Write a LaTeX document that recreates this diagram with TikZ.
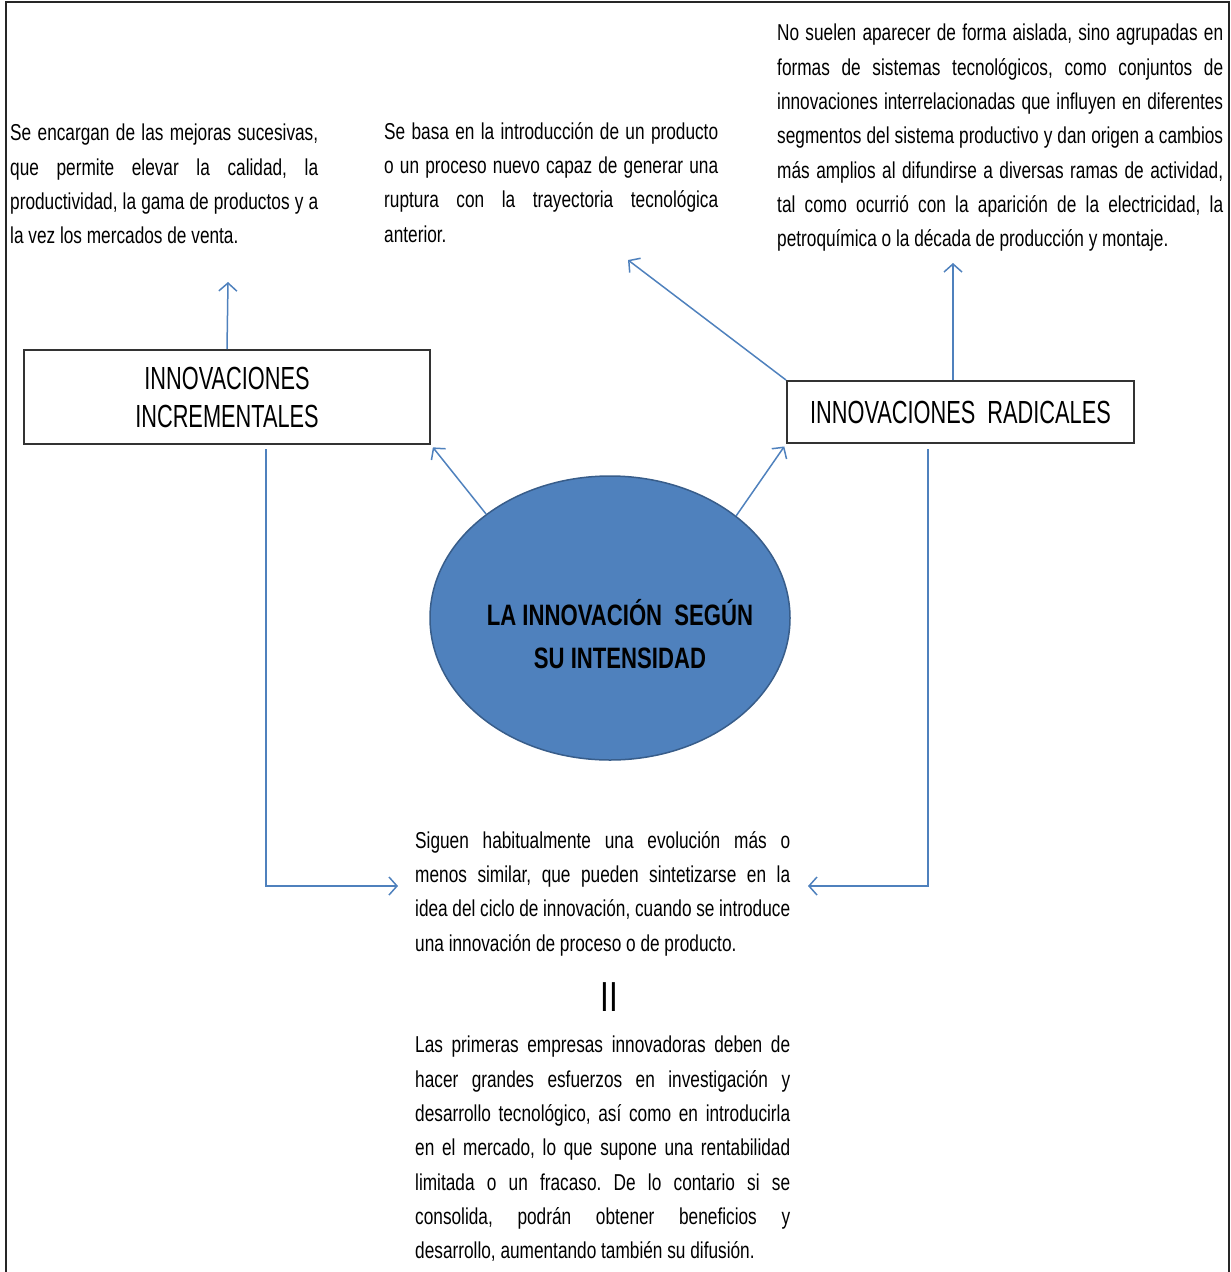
\documentclass[tikz,border=0pt]{standalone}
\usepackage{fontspec}
\setmainfont{Liberation Sans}[FakeStretch=0.75]
\newfontfamily\cajafont{Liberation Sans}[FakeStretch=0.68]
\usetikzlibrary{arrows.meta,shapes.geometric}
\definecolor{azul}{RGB}{79,129,189}
\definecolor{azulosc}{RGB}{56,93,138}
\hyphenpenalty=10000
\tolerance=10000
\frenchspacing
\begin{document}
\begin{tikzpicture}[x=1pt,y=-1pt,
  texto/.style={inner sep=0pt,anchor=north west,align=justify,
    font=\fontsize{23}{34.3}\selectfont},
  caja/.style={draw=black!80,line width=2pt,inner sep=0pt,align=center,
    font=\cajafont\fontsize{32}{38}\selectfont},
  flecha/.style={draw=azul,line width=1.5pt,
    -{Straight Barb[length=8pt,width=18pt]}}]

\useasboundingbox (0,0) rectangle (1231,1272);
\draw[line width=2.5pt,black!85] (6,1272) -- (6,2) -- (1229,2) -- (1229,1272);

% textos de arriba
\node[texto,text width=308pt] (txtinc) at (10,124)
  {Se encargan de las mejoras sucesivas,\linebreak
   que permite elevar la calidad, la\linebreak
   productividad, la gama de productos y a\linebreak
   la vez los mercados de venta.};
\node[texto,text width=334pt] (txtbasa) at (384,122)
  {Se basa en la introducción de un producto\linebreak
   o un proceso nuevo capaz de generar una\linebreak
   ruptura con la trayectoria tecnológica\linebreak
   anterior.};
\node[texto,text width=446pt] (txtrad) at (777,24)
  {No suelen aparecer de forma aislada, sino agrupadas en\linebreak
   formas de sistemas tecnológicos, como conjuntos de\linebreak
   innovaciones interrelacionadas que influyen en diferentes\linebreak
   segmentos del sistema productivo y dan origen a cambios\linebreak
   más amplios al difundirse a diversas ramas de actividad,\linebreak
   tal como ocurrió con la aparición de la electricidad, la\linebreak
   petroquímica o la década de producción y montaje.};

% cajas y elipse
\node[caja,minimum width=406pt,minimum height=94pt] (inc) at (227,397)
  {INNOVACIONES\\INCREMENTALES};
\node[caja,minimum width=347pt,minimum height=62pt] (rad) at (960.5,412)
  {INNOVACIONES\ \ RADICALES};
\node[ellipse,draw=azulosc,fill=azul,line width=1.5pt,inner sep=0pt,
  minimum width=360pt,minimum height=284pt] (centro) at (610,618) {};
\node[align=center,font=\bfseries\fontsize{29.5}{43}\selectfont] (titulo) at (620,634)
  {LA INNOVACIÓN\ \ SEGÚN\\SU INTENSIDAD};

% textos de abajo
\node[texto,text width=375pt] (txtsig) at (415,831)
  {Siguen habitualmente una evolución más o\linebreak
   menos similar, que pueden sintetizarse en la\linebreak
   idea del ciclo de innovación, cuando se introduce\linebreak
   una innovación de proceso o de producto.};
\node[font=\fontsize{42}{42}\selectfont] (igual) at (609,997) {II};
\node[texto,text width=375pt] (txtlas) at (415,1036)
  {Las primeras empresas innovadoras deben de\linebreak
   hacer grandes esfuerzos en investigación y\linebreak
   desarrollo tecnológico, así como en introducirla\linebreak
   en el mercado, lo que supone una rentabilidad\linebreak
   limitada o un fracaso. De lo contario si se\linebreak
   consolida, podrán obtener beneficios y\linebreak
   desarrollo, aumentando también su difusión.};

% flechas
\coordinate (pinc) at (228,282);
\coordinate (pbasa) at (628,260);
\coordinate (prad) at (953,263);
\coordinate (pizq) at (398,886);
\coordinate (pder) at (808,886);
\draw[flecha] (inc.north) -- (pinc);
\draw[flecha] (rad.north west) -- (pbasa);
\draw[flecha] (rad.north -| prad) -- (prad);
\draw[flecha,shorten >=3pt] (centro.140) -- (inc.south east);
\draw[flecha,shorten >=3pt] (centro.39) -- (rad.south west);
\draw[flecha] ([xshift=39pt,yshift=-4pt]inc.south) |- (pizq);
\draw[flecha] ([xshift=-32.5pt,yshift=-5pt]rad.south) |- (pder);
\end{tikzpicture}
\end{document}
